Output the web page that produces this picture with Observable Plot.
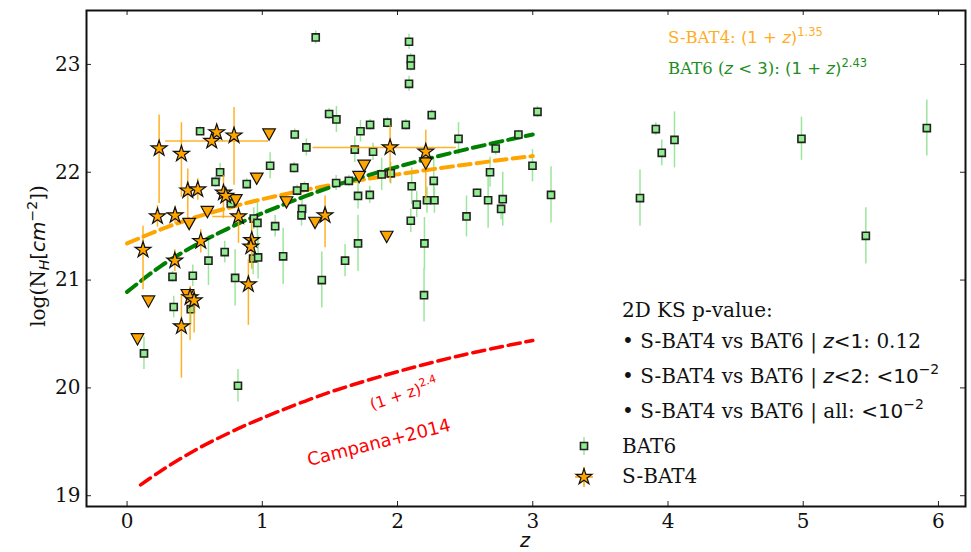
<!DOCTYPE html>
<html><head><meta charset="utf-8">
<script src="https://cdn.jsdelivr.net/npm/d3@7"></script>
<script src="https://cdn.jsdelivr.net/npm/@observablehq/plot@0.6"></script>
<style>
body{margin:0;background:#fff;}
#chart{position:relative;width:971px;height:552px;}
text{white-space:pre;}
</style></head><body><div id="chart"></div>
<script>
// ---- BAT6 sample (z, log NH, symmetric error) ----
const bat6Z = [1.395,2.085,2.098,2.098,2.085,1.494,1.548,2.253,1.240,1.726,
  1.797,1.925,2.061,1.326,2.451,2.894,3.035,1.684,1.819,2.726,
  1.235,1.883,1.950,2.684,2.998,1.546,1.640,2.105,2.268,1.257,
  1.312,1.708,1.795,2.142,2.218,2.273,2.588,2.670,2.778,2.766,
  2.510,1.294,1.290,2.098,1.708,2.199,1.154,1.612,1.440,2.196,
  3.135,3.793,3.910,3.954,4.048,4.987,5.463,5.914,0.540,0.688,
  0.654,0.885,1.058,0.767,0.937,0.964,1.095,0.722,0.602,0.932,
  0.969,0.336,0.486,0.799,0.345,0.471,0.125,0.820];
const bat6NH = [23.25,23.21,23.05,22.99,22.82,22.54,22.49,22.53,22.35,22.38,
  22.44,22.46,22.44,22.23,22.31,22.35,22.56,22.21,22.19,22.22,
  22.04,21.98,21.99,22.00,22.06,21.90,21.92,21.87,21.92,21.83,
  21.86,21.78,21.79,21.70,21.74,21.74,21.81,21.74,21.75,21.66,
  21.59,21.66,21.60,21.55,21.34,21.34,21.22,21.18,21.00,20.86,
  21.79,21.76,22.40,22.18,22.30,22.31,21.41,22.41,22.38,22.00,
  21.91,21.89,22.06,21.71,21.57,21.53,21.50,21.26,21.18,21.20,
  21.21,21.03,21.04,21.02,20.75,20.73,20.32,20.02];
const bat6Err = [0.06,0.07,0.05,0.05,0.07,0.05,0.12,0.05,0.05,0.10,
  0.05,0.05,0.05,0.08,0.15,0.04,0.05,0.12,0.08,0.06,
  0.05,0.15,0.10,0.14,0.15,0.07,0.05,0.17,0.20,0.05,
  0.05,0.12,0.08,0.12,0.12,0.12,0.04,0.26,0.25,0.10,
  0.19,0.10,0.10,0.11,0.26,0.24,0.26,0.15,0.26,0.25,
  0.26,0.26,0.06,0.12,0.26,0.20,0.26,0.26,0.04,0.08,
  0.05,0.05,0.12,0.05,0.10,0.20,0.10,0.10,0.23,0.15,
  0.20,0.05,0.10,0.26,0.10,0.15,0.15,0.15];

// ---- S-BAT4 detections ----
const sbatZ = [0.237,0.402,0.663,0.626,0.791,0.449,0.523,0.713,0.730,0.225,
  0.355,0.824,0.118,0.545,0.353,0.922,0.915,0.897,0.466,0.496,
  0.402,1.464,1.945,2.209];
const sbatNH = [22.22,22.17,22.37,22.29,22.34,21.83,21.84,21.81,21.78,21.59,
  21.60,21.59,21.28,21.36,21.18,21.37,21.31,20.96,20.84,20.81,
  20.57,21.60,22.23,22.19];
const sbatYLo = [0.51,0.40,0,0,0.46,0.27,0.10,0.24,0.05,0.10,
  0.08,0.25,0.37,0.11,0.10,0.27,0.05,0.38,0.40,0.30,
  0.48,0.30,0.33,0.45];
const sbatYHi = [0.31,0.29,0,0,0.26,0.20,0.10,0.16,0.05,0.10,
  0.08,0.05,0.22,0.11,0.10,0.19,0.05,0.23,0.10,0.10,
  0.30,0.18,0.20,0.20];
const sbatXLo = [0,0,0,0.34,0,0,0,0,0,0, 0,0.19,0,0,0,0,0,0,0,0, 0,0,0.57,0];
const sbatXHi = [0,0,0,0.42,0,0,0,0,0,0, 0,0.05,0,0,0,0,0,0,0,0, 0,0,0.49,0];

// ---- S-BAT4 upper limits ----
const ulZ = [0.077,0.158,0.446,0.459,0.594,0.804,0.959,1.050,1.179,1.390,1.716,1.753,1.920,2.209];
const ulNH = [20.45,20.80,20.86,21.52,21.63,21.74,21.94,22.35,21.72,21.53,21.955,22.06,21.40,22.08];

// ---- fitted curves ----
const fitZ = [0,0.25,0.5,0.75,1,1.5,2,2.5,3];
const sbat4Fit = [21.34,21.47,21.58,21.67,21.75,21.88,21.98,22.07,22.15];
const bat6Fit = [20.89,21.13,21.32,21.48,21.62,21.86,22.05,22.21,22.35];
const campanaZ = [0.1,0.25,0.5,0.75,1,1.5,2,2.5,3];
const campanaNH = [19.10,19.23,19.42,19.58,19.72,19.96,20.15,20.31,20.44];

const xTicks = [0,1,2,3,4,5,6];
const yTicks = [19,20,21,22,23];

// ---- tables ----
const bat6 = bat6Z.map((z,i)=>({z, nh: bat6NH[i], lo: bat6NH[i]-bat6Err[i], hi: bat6NH[i]+bat6Err[i]}));
const sbat = sbatZ.map((z,i)=>({z, nh: sbatNH[i], y1: sbatNH[i]-sbatYLo[i], y2: sbatNH[i]+sbatYHi[i],
  x1: z - sbatXLo[i], x2: z + sbatXHi[i]}));
const sbatV = sbat.filter(d => d.y2 > d.y1);
const sbatH = sbat.filter(d => d.x2 > d.x1);
const ul = ulZ.map((z,i)=>({z, nh: ulNH[i]}));
const sFit = fitZ.map((z,i)=>({z, nh: sbat4Fit[i]}));
const bFit = fitZ.map((z,i)=>({z, nh: bat6Fit[i]}));
const cFit = campanaZ.map((z,i)=>({z, nh: campanaNH[i]}));

const triDown = {draw(ctx, size){ const r = Math.sqrt(size/Math.PI);
  ctx.moveTo(0, r*0.9); ctx.lineTo(-r, -r*0.9); ctx.lineTo(r, -r*0.9); ctx.closePath(); }};

const SERIF = "'DejaVu Serif', serif", SANS = "'DejaVu Sans', sans-serif";
const W=971, H=552, mL=86, mR=6, mT=10, mB=46;
const innerW = W-mL-mR, innerH = H-mT-mB;
const ORANGE = "#FFA500", GREEN = "#008000";

const chart = Plot.plot({
  width: W, height: H, marginLeft: mL, marginRight: mR, marginTop: mT, marginBottom: mB,
  style: {fontFamily: SERIF, fontSize: "20px", background: "#fff", color: "#111"},
  x: {domain: [-0.3, 6.2]},
  y: {domain: [18.9, 23.5]},
  marks: [
    Plot.axisX({ticks: xTicks, anchor: "bottom", tickSize: 0, tickPadding: 7, label: null, fontSize: 20, tickFormat: d => String(d)}),
    Plot.axisY({ticks: yTicks, anchor: "left", tickSize: 0, tickPadding: 6, label: null, fontSize: 20, tickFormat: d => String(d)}),
    Plot.tickX(xTicks, {x: d => d, insetTop: innerH-5, stroke: "#222"}),
    Plot.tickX(xTicks, {x: d => d, insetBottom: innerH-5, stroke: "#222"}),
    Plot.tickY(yTicks, {y: d => d, insetRight: innerW-5, stroke: "#222"}),
    Plot.tickY(yTicks, {y: d => d, insetLeft: innerW-5, stroke: "#222"}),
    Plot.ruleX(bat6, {x: "z", y1: "lo", y2: "hi", stroke: "#9ce69c", strokeWidth: 1.5}),
    Plot.line(cFit, {x: "z", y: "nh", stroke: "#FF0000", strokeWidth: 3.5, strokeDasharray: "12 6", curve: "catmull-rom"}),
    Plot.line(sFit, {x: "z", y: "nh", stroke: ORANGE, strokeWidth: 4, strokeDasharray: "12 6", curve: "catmull-rom"}),
    Plot.line(bFit, {x: "z", y: "nh", stroke: GREEN, strokeWidth: 4, strokeDasharray: "12 6", curve: "catmull-rom"}),
    Plot.dot(bat6, {x: "z", y: "nh", symbol: "square", r: 4, fill: "#90EE90", stroke: "#222", strokeWidth: 1.6}),
    Plot.ruleX(sbatV, {x: "z", y1: "y1", y2: "y2", stroke: ORANGE, strokeOpacity: 0.85, strokeWidth: 1.5}),
    Plot.ruleY(sbatH, {y: "nh", x1: "x1", x2: "x2", stroke: ORANGE, strokeOpacity: 0.85, strokeWidth: 1.5}),
    Plot.dot(ul, {x: "z", y: "nh", symbol: triDown, r: 6.3, fill: ORANGE, stroke: "#111", strokeWidth: 1.2}),
    Plot.dot(sbat, {x: "z", y: "nh", symbol: "star", r: 5, fill: ORANGE, stroke: "#111", strokeWidth: 1.2}),
    Plot.frame({stroke: "#111", strokeWidth: 2})
  ]
});
document.getElementById("chart").appendChild(chart);

// ---- annotations ----
const svg = d3.select(chart);
function rich(x, y, parts, o) {
  const t = svg.append("text").attr("x", x).attr("y", y).attr("fill", o.fill || "#111")
    .attr("font-size", o.size).attr("font-family", o.font || SERIF)
    .attr("text-anchor", o.anchor || "start");
  if (o.rotate) t.attr("transform", `rotate(${o.rotate} ${x} ${y})`);
  parts.forEach(p => {
    const s = t.append("tspan").text(p.t);
    if (p.f) s.attr("font-family", p.f);
    if (p.i) s.attr("font-style", "italic");
    if (p.sz) s.attr("font-size", p.sz);
    if (p.dy) s.attr("dy", p.dy);
  });
  return t;
}
// fit labels
rich(668, 43, [{t:"S-BAT4: "},{t:"(1 + ",f:SANS},{t:"z",f:SANS,i:1},{t:")",f:SANS},{t:"1.35",f:SANS,sz:11.5,dy:-7}],
  {size:16.5, fill:"#ffad1f"});
rich(668, 74, [{t:"BAT6 ("},{t:"z",f:SANS,i:1},{t:" < 3",f:SANS},{t:"): "},{t:"(1 + ",f:SANS},{t:"z",f:SANS,i:1},{t:")",f:SANS},{t:"2.43",f:SANS,sz:11.5,dy:-7}],
  {size:16.5, fill:"#1e8c1e"});
// KS block
rich(622, 317, [{t:"2D KS p-value:"}], {size:20});
rich(622, 348, [{t:"• S-BAT4 vs BAT6 | "},{t:"z",f:SANS,i:1},{t:"<1",f:SANS},{t:": 0.12"}], {size:20});
rich(622, 383, [{t:"• S-BAT4 vs BAT6 | "},{t:"z",f:SANS,i:1},{t:"<2",f:SANS},{t:": "},{t:"<10",f:SANS},{t:"−2",f:SANS,sz:14,dy:-9}], {size:20});
rich(622, 418, [{t:"• S-BAT4 vs BAT6 | all: "},{t:"<10",f:SANS},{t:"−2",f:SANS,sz:14,dy:-9}], {size:20});
rich(622, 453, [{t:"BAT6"}], {size:20});
rich(622, 483, [{t:"S-BAT4"}], {size:20});
// legend markers
svg.append("line").attr("x1",584).attr("x2",584).attr("y1",437).attr("y2",455).attr("stroke","#9ce69c").attr("stroke-width",1.5);
svg.append("path").attr("d", d3.symbol(d3.symbolSquare, Math.PI*16)()).attr("transform","translate(584,446)")
  .attr("fill","#90EE90").attr("stroke","#222").attr("stroke-width",1.6);
svg.append("line").attr("x1",575).attr("x2",593).attr("y1",477).attr("y2",477).attr("stroke",ORANGE).attr("stroke-width",1.5);
svg.append("line").attr("x1",584).attr("x2",584).attr("y1",467).attr("y2",487).attr("stroke",ORANGE).attr("stroke-width",1.5);
svg.append("path").attr("d", d3.symbol(d3.symbolStar, Math.PI*25)()).attr("transform","translate(584,477)")
  .attr("fill",ORANGE).attr("stroke","#111").attr("stroke-width",1.2);
// Campana annotations
rich(372, 410, [{t:"(1 + z)"},{t:"2.4",sz:11,dy:-7}], {size:15.5, font:SANS, fill:"#FF0000", rotate:-18});
rich(309, 466, [{t:"Campana+2014"}], {size:18, font:SANS, fill:"#FF0000", rotate:-14});
// axis labels
rich(525, 547, [{t:"z",i:1}], {size:19, font:SANS, anchor:"middle"});
rich(45, 256, [{t:"log(N"},{t:"H",f:SANS,i:1,sz:14,dy:4},{t:"[",f:SANS,dy:-4},{t:"cm",f:SANS,i:1},{t:"−2",f:SANS,sz:14,dy:-8},{t:"]",f:SANS,dy:8},{t:")"}],
  {size:20, anchor:"middle", rotate:-90});
</script></body></html>
